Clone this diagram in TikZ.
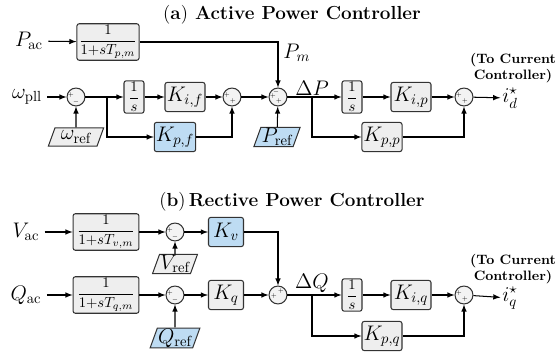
\documentclass[tikz,border=0pt]{standalone}
\usepackage{amsmath,amssymb}
\usepackage{fontspec}
\usepackage{xcolor}
\usepackage{tikz}
\usetikzlibrary{arrows,shapes.geometric}
\definecolor{skyb}{RGB}{190,220,243}
\definecolor{boxg}{RGB}{238,238,238}

\begin{document}
\begin{tikzpicture}[x=0.024cm,y=-0.024cm,>=latex,line width=0.7pt,
	blk/.style={draw=black!80,fill=boxg,rounded corners=1.5pt,inner sep=1pt,minimum height=0.7cm},
	kblk/.style={blk,minimum width=0.96cm,font=\Large},
	bblk/.style={kblk,fill=skyb},
	iblk/.style={blk,minimum width=0.48cm,minimum height=0.65cm,inner sep=1pt},
	sumnode/.style={circle,draw=black!80,fill=boxg!70,minimum size=0.43cm,inner sep=0pt},
	sgn/.style={font=\tiny,scale=0.8,inner sep=0pt},
	refin/.style={trapezium,trapezium left angle=70,trapezium right angle=110,draw=black!80,fill=boxg,inner xsep=0.5pt,inner ysep=0.5pt,minimum height=0.44cm,font=\Large},
	lbl/.style={font=\Large},
	ttl/.style={font=\fontsize{12.9}{15}\selectfont\bfseries},
	note/.style={font=\fontsize{9.3}{10.6}\selectfont\bfseries,align=center,inner sep=0pt}]
		\useasboundingbox (0,0) rectangle (557,354);
		% (a)
		\node[ttl] (Ta) at (292,15) {\textmd{(}a\textmd{)} Active Power Controller};
		\node[lbl] (Pac) at (29,41) {$P_{\mathrm{ac}}$};
		\node[blk,minimum width=1.49cm] (Fp) at (108,42) {$\dfrac{1}{1{+}sT_{p,m}}$};
		\node[lbl] (wpll) at (27,97) {$\omega_{\mathrm{pll}}$};
		\node[sumnode] (S1) at (76,97) {};
		\node[refin] (wref) at (76,137) {$\omega_{\mathrm{ref}}$};
		\coordinate (b1) at (107,97);
		\node[iblk] (I1) at (134,97) {$\dfrac{1}{s}$};
		\node[kblk] (Kif) at (185,97) {$K_{i,f}$};
		\node[sumnode] (S1b) at (232,97) {};
		\node[bblk] (Kpf) at (175,137) {$K_{p,f}$};
		\node[sumnode] (S2) at (278,97) {};
		\node[refin,fill=skyb] (Pref) at (277,137) {$P_{\mathrm{ref}}$};
		\coordinate (b2) at (312,97);
		\node[iblk] (I2) at (352,97) {$\dfrac{1}{s}$};
		\node[kblk] (Kip) at (411,97) {$K_{i,p}$};
		\node[sumnode] (S3) at (464,97) {};
		\node[kblk] (Kpp) at (382,137) {$K_{p,p}$};
		\node[lbl,inner sep=1pt] (id) at (510,98) {$i_d^{\star}$};
		\node[note] (Ca) at (513,68) {(To Current\\Controller)};
		%
		\node[sgn] at ([shift={(-5,-2)}]S1.center) {$+$};
		\node[sgn] at ([shift={(0,5)}]S1.center) {$-$};
		\node[sgn] at ([shift={(-5,-2)}]S1b.center) {$+$};
		\node[sgn] at ([shift={(1,4)}]S1b.center) {$+$};
		\node[sgn] at ([shift={(-2,-5)}]S2.center) {$-$};
		\node[sgn] at ([shift={(-5,-1)}]S2.center) {$+$};
		\node[sgn] at ([shift={(1,4)}]S2.center) {$+$};
		\node[sgn] at ([shift={(-5,-2)}]S3.center) {$+$};
		\node[sgn] at ([shift={(1,4)}]S3.center) {$+$};
		%
		\path[->]
		(Pac) edge (Fp)
		(wpll) edge (S1)
		(wref) edge (S1)
		(I1) edge (Kif)
		(Kif) edge (S1b)
		(S1b) edge (S2)
		(Pref) edge (S2)
		(I2) edge (Kip)
		(Kip) edge (S3)
		(S3) edge (id);
		\draw (S1) -- (b1);
		\draw[->] (b1) -- (I1);
		\draw[->] (b1) |- (Kpf);
		\draw[->] (Kpf) -| (S1b);
		\draw[->] (Fp) -| (S2) node[pos=0.62,right,lbl] {$P_m$};
		\draw (S2) -- (b2) node[above,lbl,inner sep=1pt] {$\Delta P$};
		\draw[->] (b2) -- (I2);
		\draw[->] (b2) |- (Kpp);
		\draw[->] (Kpp) -| (S3);
		% (b)
		\node[ttl] (Tb) at (292,202) {\textmd{(}b\textmd{)}\,Rective Power Controller};
		\node[lbl] (Vac) at (26,232) {$V_{\mathrm{ac}}$};
		\node[blk,minimum width=1.58cm] (Fv) at (106,232) {$\dfrac{1}{1{+}sT_{v,m}}$};
		\node[sumnode] (Sv) at (175,232) {};
		\node[refin] (Vref) at (175,264) {$V_{\mathrm{ref}}$};
		\node[bblk,minimum width=0.84cm] (Kv) at (226,232) {$K_v$};
		\node[lbl] (Qac) at (26,295) {$Q_{\mathrm{ac}}$};
		\node[blk,minimum width=1.58cm] (Fq) at (106,295) {$\dfrac{1}{1{+}sT_{q,m}}$};
		\node[sumnode] (Sq) at (175,295) {};
		\node[refin,fill=skyb] (Qref) at (175,338) {$Q_{\mathrm{ref}}$};
		\node[kblk,minimum width=0.84cm] (Kq) at (226,295) {$K_q$};
		\node[sumnode] (S4) at (278,295) {};
		\coordinate (b4) at (312,295);
		\node[iblk] (I4) at (352,295) {$\dfrac{1}{s}$};
		\node[kblk] (Kiq) at (411,295) {$K_{i,q}$};
		\node[sumnode] (S5) at (464,295) {};
		\node[kblk] (Kpq) at (382,336) {$K_{p,q}$};
		\node[lbl,inner sep=1pt] (iq) at (510,298) {$i_q^{\star}$};
		\node[note] (Cb) at (513,269) {(To Current\\Controller)};
		%
		\node[sgn] at ([shift={(-5,-2)}]Sv.center) {$+$};
		\node[sgn] at ([shift={(0,5)}]Sv.center) {$-$};
		\node[sgn] at ([shift={(-5,-2)}]Sq.center) {$+$};
		\node[sgn] at ([shift={(0,5)}]Sq.center) {$-$};
		\node[sgn] at ([shift={(-4,1)}]S4.center) {$+$};
		\node[sgn] at ([shift={(3,-4)}]S4.center) {$+$};
		\node[sgn] at ([shift={(-5,-2)}]S5.center) {$+$};
		\node[sgn] at ([shift={(1,4)}]S5.center) {$+$};
		%
		\path[->]
		(Vac) edge (Fv)
		(Fv) edge (Sv)
		(Vref) edge (Sv)
		(Sv) edge (Kv)
		(Qac) edge (Fq)
		(Fq) edge (Sq)
		(Qref) edge (Sq)
		(Sq) edge (Kq)
		(Kq) edge (S4)
		(I4) edge (Kiq)
		(Kiq) edge (S5)
		(S5) edge (iq);
		\draw[->] (Kv) -| (S4);
		\draw (S4) -- (b4) node[above,lbl,inner sep=1pt] {$\Delta Q$};
		\draw[->] (b4) -- (I4);
		\draw[->] (b4) |- (Kpq);
		\draw[->] (Kpq) -| (S5);
\end{tikzpicture}
\end{document}
